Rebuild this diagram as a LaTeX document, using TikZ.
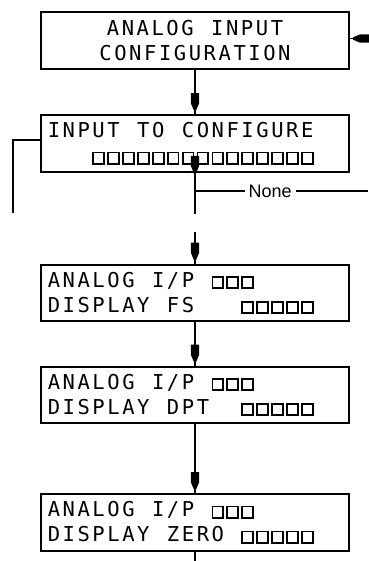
\documentclass[tikz,border=0pt]{standalone}
\usepackage{fontspec}
\setsansfont{Liberation Sans}
\newfontfamily\lcdfont{DejaVu Sans Mono}
\usetikzlibrary{positioning, decorations.markings}

% display font, one blank cell, one empty cell, and a row of cells
\newcommand{\lcd}{\lcdfont\fontsize{20.5pt}{25pt}\selectfont}
\newcommand{\pad}{\makebox[14.9pt]{}}
\newcommand{\sq}{\makebox[14.9pt][c]{\setlength{\fboxsep}{0pt}\setlength{\fboxrule}{1.8pt}\fbox{\rule{0pt}{9.3pt}\hspace{9pt}}}}
\makeatletter
\newcommand{\row}[1]{\@tfor\cellch:=#1\do{\makebox[14.9pt][c]{\cellch}}}
\makeatother

\tikzset{
  display/.style = {draw, line width=2.2pt, minimum width=308pt, minimum height=56.5pt,
                    inner xsep=5.5pt, inner ysep=0pt, text width=297pt, align=left, font=\lcd},
  line/.style = {line width=1.8pt},
  flow/.style = {line, postaction={decorate},
                 decoration={markings, mark=at position #1 with {\fill (-17pt,-4.2pt) -- (-7pt,-4.2pt) -- (0pt,-1.2pt) -- (0pt,1.2pt) -- (-7pt,4.2pt) -- (-17pt,4.2pt) -- cycle;}}},
  flow/.default = -4pt
}

\begin{document}
\begin{tikzpicture}[x=1pt, y=-1pt]
    \useasboundingbox (0,0) rectangle (368,561);

    \node (title) [display, align=center] at (195,40.5) {\row{ANALOG\pad INPUT}\\\row{CONFIGURATION}};
    \node (select) [display] at (195,143.5) {\row{INPUT\pad TO\pad CONFIGURE}\\\row{\pad\pad\pad\sq\sq\sq\sq\sq\sq\sq\sq\sq\sq\sq\sq\sq\sq\sq}};
    \node (fullscale) [display] at (195,293) {\row{ANALOG\pad I/P\pad\sq\sq\sq}\\\row{DISPLAY\pad FS\pad\pad\pad\sq\sq\sq\sq\sq}};
    \node (dpoint) [display] at (195,395) {\row{ANALOG\pad I/P\pad\sq\sq\sq}\\\row{DISPLAY\pad DPT\pad\pad\sq\sq\sq\sq\sq}};
    \node (zero) [display] at (195,522.5) {\row{ANALOG\pad I/P\pad\sq\sq\sq}\\\row{DISPLAY\pad ZERO\pad\sq\sq\sq\sq\sq}};

    \coordinate (feed) at (368,38.5);
    \coordinate (leftend) at (13,213);
    \coordinate (skip) at (195,214);
    \coordinate (branch) at (195,191);
    \coordinate (noneend) at (368,191);
    \coordinate (resume) at (195,232);
    \coordinate (exit) at (195,561);

    \draw [flow=-3pt] (feed) -- (feed -| title.east);
    \draw [flow] (title) -- (select);
    \draw [line] ([yshift=3.5pt]select.west) -| (leftend);
    \draw [flow=0pt] (select) -- (skip);
    \draw [line] (branch) -- (noneend)
        node [pos=0.434, fill=white, inner xsep=4pt, font=\sffamily\fontsize{18pt}{20pt}\selectfont] {None};
    \draw [flow] (resume) -- (fullscale);
    \draw [flow] (fullscale) -- (dpoint);
    \draw [flow] (dpoint) -- (zero);
    \draw [line] (zero) -- (exit);
\end{tikzpicture}
\end{document}
